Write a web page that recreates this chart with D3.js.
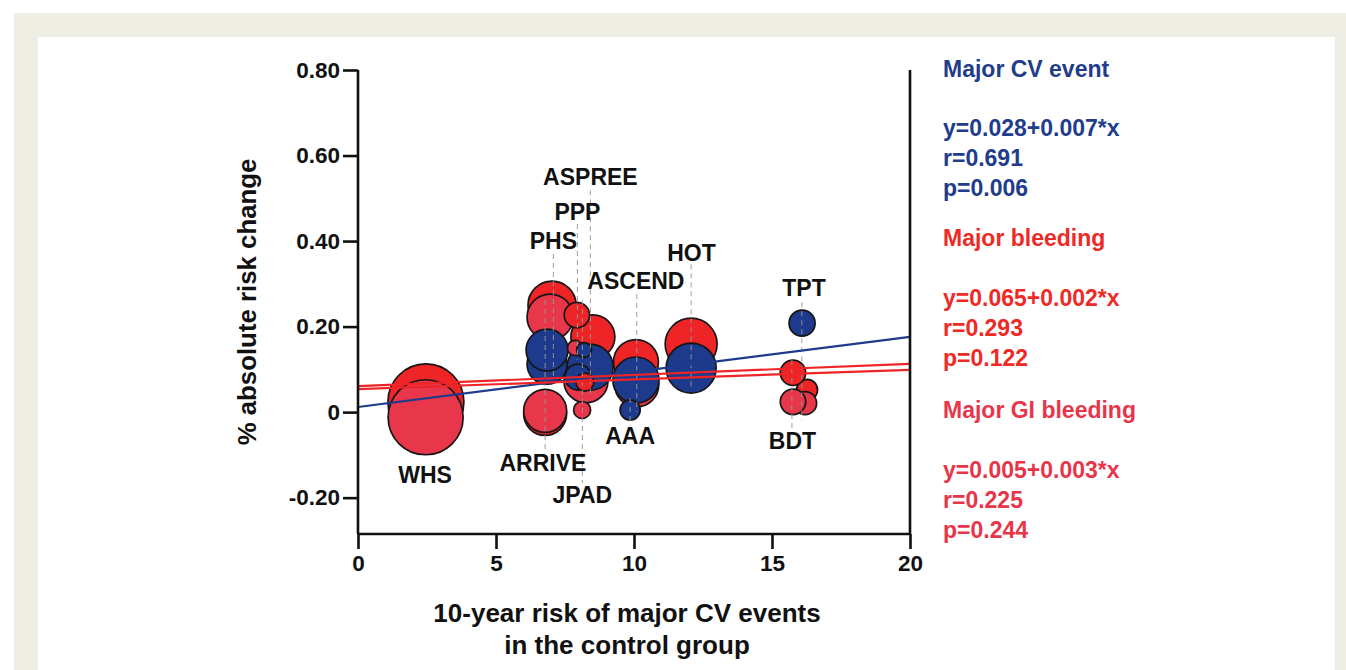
<!DOCTYPE html>
<html>
<head>
<meta charset="utf-8">
<script src="https://cdn.jsdelivr.net/npm/d3@7/dist/d3.min.js"></script>
<style>
  html, body { margin: 0; padding: 0; background: #ffffff; }
  svg { display: block; }
  text { font-family: "Liberation Sans", Arial, sans-serif; font-weight: bold; }
</style>
</head>
<body>
<svg id="chart" width="1346" height="670"></svg>
<script>
// ---------------- DATA ----------------
const trials = ["WHS","ARRIVE","PHS","PPP","ASPREE","JPAD","ASCEND","AAA","HOT","TPT","BDT"];
// 10-year control risk at which each trial's label/leader sits
const trialRisk = [2.43, 6.78, 7.08, 7.95, 8.42, 8.13, 10.1, 9.86, 12.07, 16.08, 15.72];

// bubbles: [trial, x (10-y risk), y (% abs. risk change), n (participants, thousands)]
const cvEvent = [
  ["ARRIVE", 6.85, 0.112, 11.1],
  ["PHS",    6.85, 0.145, 12.2],
  ["JPAD",   8.19, 0.145, 1.56],
  ["PPP",    7.97, 0.082, 4.7],
  ["ASPREE", 8.41, 0.105, 14.7],
  ["ASCEND",10.07, 0.075, 14.7],
  ["AAA",    9.86, 0.005, 2.8],
  ["HOT",   12.07, 0.103, 17.3],
  ["TPT",   16.09, 0.208, 4.7]
];
const majorBleeding = [
  ["WHS",    2.46, 0.024, 40],
  ["ARRIVE", 6.78, -0.004, 12.8],
  ["PHS",    7.03, 0.250, 16.0],
  ["PPP",    7.93, 0.227, 4.47],
  ["ASPREE", 8.51, 0.176, 13.4],
  ["JPAD",   8.22, 0.070, 2.24],
  ["ASCEND",10.07, 0.117, 14.0],
  ["HOT",   12.07, 0.159, 18.7],
  ["TPT",   16.27, 0.052, 3.05],
  ["BDT",   15.76, 0.092, 4.47]
];
const giBleeding = [
  ["WHS",    2.45, -0.012, 39],
  ["ARRIVE", 6.78, 0.003, 12.8],
  ["PHS",    6.96, 0.222, 14.7],
  ["PPP",    7.86, 0.150, 1.56],
  ["ASPREE", 8.26, 0.073, 13.4],
  ["JPAD",   8.12, 0.005, 2.0],
  ["ASCEND",10.10, 0.064, 13.4],
  ["TPT",   16.20, 0.021, 3.66],
  ["BDT",   15.76, 0.024, 4.47]
];
// drawing (stacking) order of bubbles: [trial, series]
const drawOrder = [
  ["WHS","bleed"],["WHS","gi"],
  ["HOT","bleed"],["HOT","cv"],
  ["ASCEND","gi"],["ASCEND","bleed"],["ASCEND","cv"],["AAA","cv"],
  ["ASPREE","gi"],["ASPREE","bleed"],["ASPREE","cv"],
  ["PHS","bleed"],["PHS","gi"],["ARRIVE","cv"],["PHS","cv"],
  ["PPP","bleed"],["PPP","gi"],["JPAD","cv"],["PPP","cv"],["JPAD","bleed"],
  ["JPAD","gi"],["ARRIVE","bleed"],["ARRIVE","gi"],
  ["TPT","cv"],["TPT","bleed"],["BDT","bleed"],["TPT","gi"],["BDT","gi"]
];
// fitted lines as drawn: [x0, y0, x1, y1]
const fitCV    = [0, 0.012, 20, 0.176];
const fitBleed = [0, 0.061, 20, 0.113];
const fitGI    = [0, 0.054, 20, 0.099];

const yTicks = [0.8, 0.6, 0.4, 0.2, 0, -0.2];
const yTickLabels = ["0.80","0.60","0.40","0.20","0","-0.20"];
const xTicks = [0, 5, 10, 15, 20];

// trial label placement (data units): [trial, x, y]
const labelPos = [
  ["WHS", 2.43, -0.148], ["ARRIVE", 6.70, -0.120], ["JPAD", 8.13, -0.193],
  ["AAA", 9.86, -0.057], ["BDT", 15.74, -0.068], ["TPT", 16.16, 0.290],
  ["HOT", 12.08, 0.373], ["ASCEND", 10.07, 0.307], ["PHS", 7.08, 0.400],
  ["PPP", 7.95, 0.468], ["ASPREE", 8.42, 0.550]
];
// leader lines (y range, data units): [trial, yTop, yBottom]
const leaders = [
  ["ASPREE", 0.519, 0.040], ["PPP", 0.440, 0.122], ["PHS", 0.370, 0.075],
  ["ARRIVE", 0.262, -0.089], ["JPAD", 0.262, -0.166], ["ASCEND", 0.276, 0.000],
  ["AAA", 0.033, -0.032], ["HOT", 0.346, 0.051], ["TPT", 0.257, -0.018],
  ["BDT", 0.122, -0.037]
];

const statsText = [
  ["Major CV event", "cv"], ["", "cv"], ["y=0.028+0.007*x", "cv"], ["r=0.691", "cv"], ["p=0.006", "cv"],
  ["Major bleeding", "bleed"], ["", "bleed"], ["y=0.065+0.002*x", "bleed"], ["r=0.293", "bleed"], ["p=0.122", "bleed"],
  ["Major GI bleeding", "gi"], ["", "gi"], ["y=0.005+0.003*x", "gi"], ["r=0.225", "gi"], ["p=0.244", "gi"]
];

// ---------------- STYLE ----------------
const colors = { cv: "#1d3a8c", bleed: "#ee2426", gi: "#e8364b" };
const textColors = { cv: "#213c8b", bleed: "#ee2a26", gi: "#e8354a" };

const svg = d3.select("#chart");
// panel backgrounds
svg.append("rect").attr("x", 14).attr("y", 13).attr("width", 1332).attr("height", 657).attr("fill", "#efeee4");
svg.append("rect").attr("x", 38).attr("y", 37).attr("width", 1297).attr("height", 633).attr("fill", "#ffffff");

const x = d3.scaleLinear().domain([0, 20]).range([358, 910]);
const y = d3.scaleLinear().domain([-0.285, 0.8]).range([534, 70]);
const r = d3.scaleSqrt().domain([0, 40]).range([0, 38]);

// bubbles
const series = { cv: cvEvent, bleed: majorBleeding, gi: giBleeding };
const bubbles = drawOrder.map(([t, s]) => {
  const d = series[s].find(e => e[0] === t);
  return d ? { trial: t, series: s, x: d[1], y: d[2], n: d[3] } : null;
}).filter(Boolean);

svg.append("g").selectAll("circle").data(bubbles).join("circle")
  .attr("cx", d => x(d.x)).attr("cy", d => y(d.y)).attr("r", d => r(d.n))
  .attr("fill", d => colors[d.series])
  .attr("stroke", "#161616").attr("stroke-width", 1.7);

// leader lines
const riskOf = t => trialRisk[trials.indexOf(t)];
svg.append("g").selectAll("line").data(leaders).join("line")
  .attr("x1", d => x(riskOf(d[0]))).attr("x2", d => x(riskOf(d[0])))
  .attr("y1", d => y(d[1])).attr("y2", d => y(d[2]))
  .attr("stroke", "#9a9a9a").attr("stroke-width", 1.1)
  .attr("stroke-dasharray", "5,4").attr("opacity", 0.85);

// fit lines
const fits = [[fitCV, "cv"], [fitBleed, "bleed"], [fitGI, "bleed"]];
svg.append("g").selectAll("line").data(fits).join("line")
  .attr("x1", d => x(d[0][0])).attr("y1", d => y(d[0][1]))
  .attr("x2", d => x(d[0][2])).attr("y2", d => y(d[0][3]))
  .attr("stroke", d => colors[d[1]]).attr("stroke-width", 2.2);

// trial labels
svg.append("g").selectAll("text").data(labelPos).join("text")
  .attr("x", d => x(d[1])).attr("y", d => y(d[2]))
  .attr("text-anchor", "middle").attr("dominant-baseline", "central")
  .attr("font-size", 23).attr("fill", "#111")
  .text(d => d[0]);

// axes
const yAxis = d3.axisLeft(y).tickValues(yTicks).tickSize(15).tickPadding(3)
  .tickFormat((d, i) => yTickLabels[i]);
const gy = svg.append("g").attr("transform", `translate(${x(0)},0)`).call(yAxis);
const xAxis = d3.axisBottom(x).tickValues(xTicks).tickSize(15).tickPadding(6);
const gx = svg.append("g").attr("transform", `translate(0,${y.range()[0]})`).call(xAxis);
[gx, gy].forEach(g => {
  g.select(".domain").attr("stroke", "#111").attr("stroke-width", 2.6);
  g.selectAll(".tick line").attr("stroke", "#111").attr("stroke-width", 2.6);
  g.selectAll(".tick text").attr("fill", "#111").attr("font-size", 22.5)
    .attr("font-family", "Liberation Sans, Arial, sans-serif").attr("font-weight", "bold");
});
gy.select(".domain").attr("d", `M0,${y.range()[1]}V${y.range()[0]}`);
gx.select(".domain").attr("d", `M${x.range()[0]},0H${x.range()[1]}`);
// right frame line
svg.append("line").attr("x1", x(20)).attr("x2", x(20))
  .attr("y1", y.range()[1]).attr("y2", y.range()[0])
  .attr("stroke", "#111").attr("stroke-width", 2.6);

// axis titles
svg.append("text").attr("x", 627).attr("y", 622).attr("text-anchor", "middle")
  .attr("font-size", 26).attr("fill", "#111").text("10-year risk of major CV events");
svg.append("text").attr("x", 627).attr("y", 654).attr("text-anchor", "middle")
  .attr("font-size", 26).attr("fill", "#111").text("in the control group");
svg.append("text").attr("transform", "translate(256,302) rotate(-90)")
  .attr("text-anchor", "middle").attr("font-size", 25.8).attr("fill", "#111")
  .text("% absolute risk change");

// stats text
const statsY = [69, 99, 128, 158, 188, 238, 268, 298, 328, 358, 410, 440, 470, 500, 530];
svg.append("g").selectAll("text").data(statsText).join("text")
  .attr("x", 943).attr("y", (d, i) => statsY[i])
  .attr("dominant-baseline", "central")
  .attr("font-size", 23).attr("fill", d => textColors[d[1]])
  .text(d => d[0]);
</script>
</body>
</html>
